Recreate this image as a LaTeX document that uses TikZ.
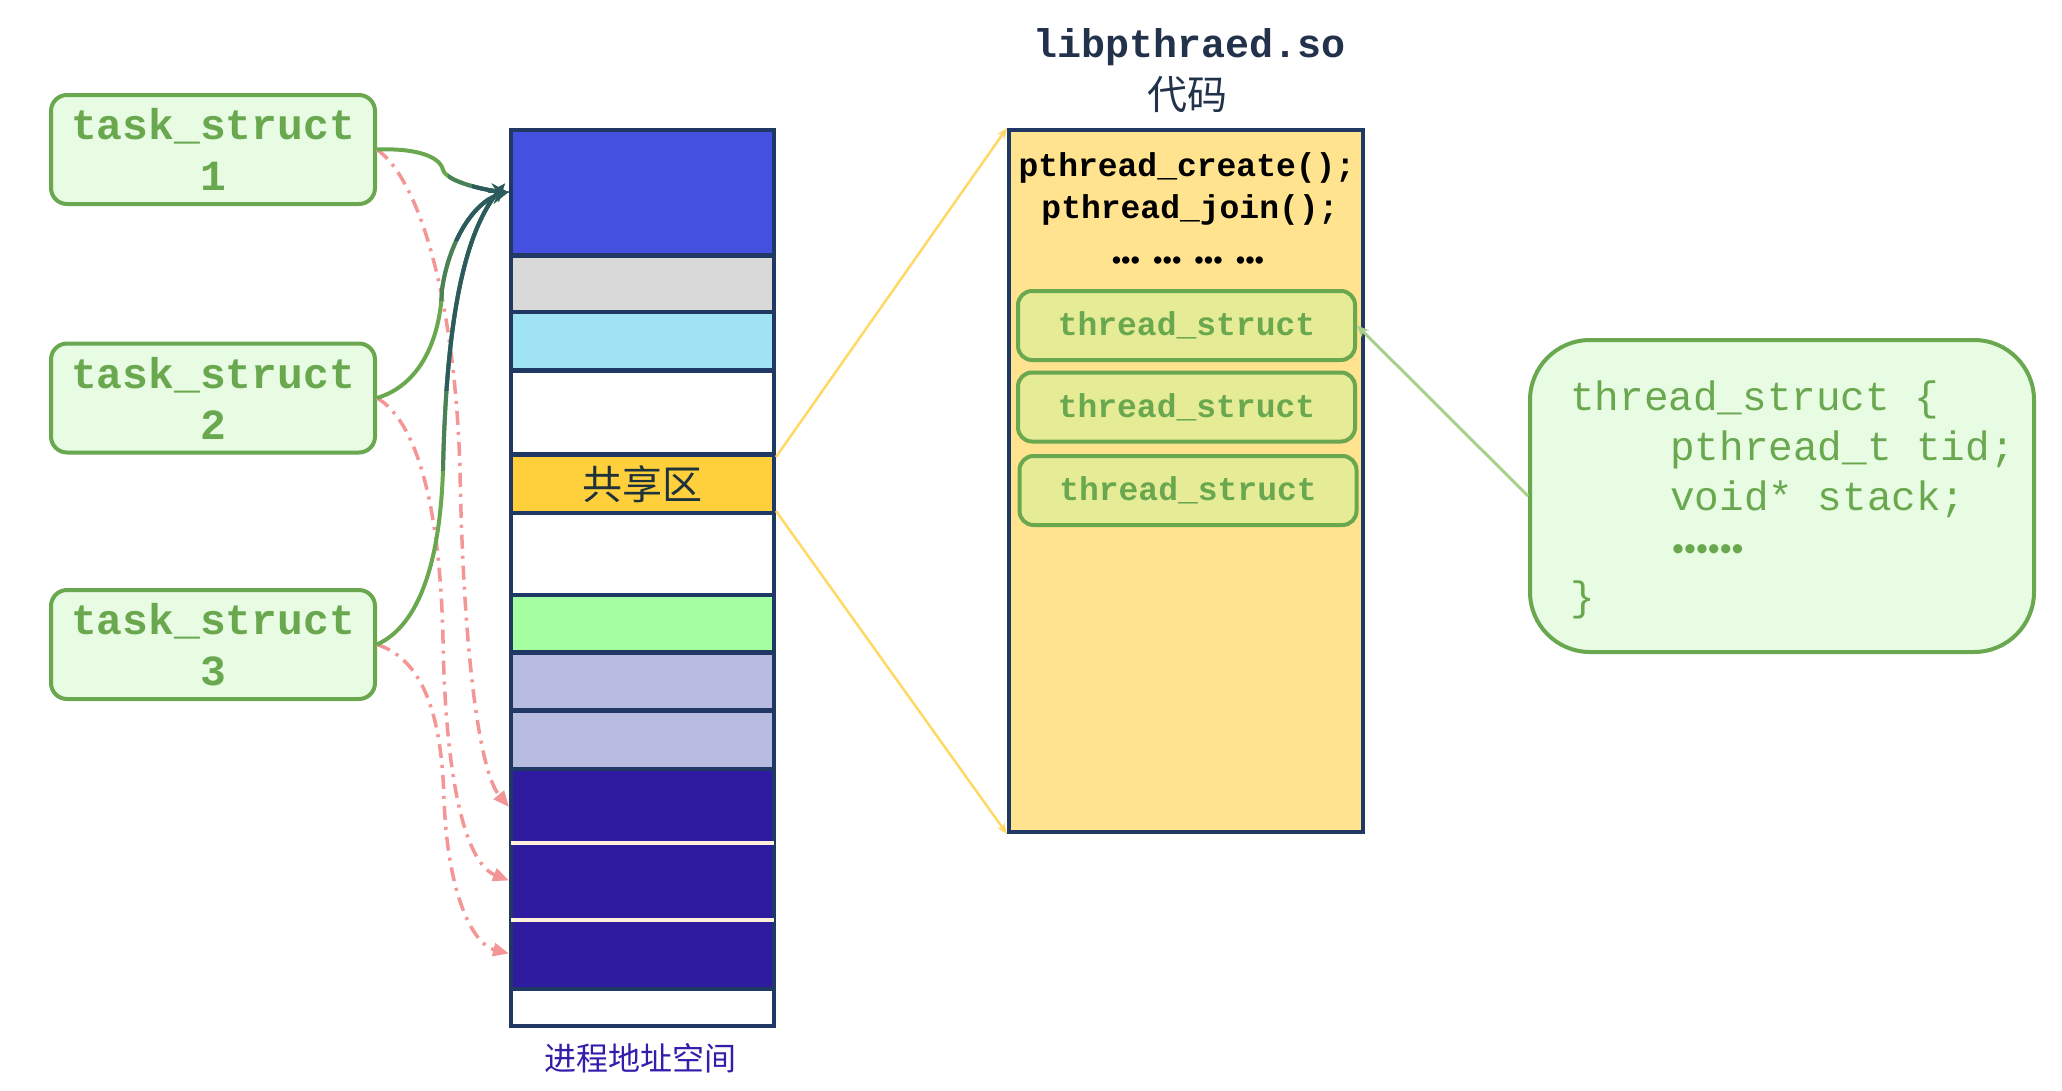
\documentclass[tikz,border=0pt]{standalone}
\usepackage{fontspec}
\setmonofont{Liberation Mono}
\newfontfamily\cjk{Noto Sans CJK SC}
\newfontfamily\lsans{Liberation Sans}
\usetikzlibrary{arrows.meta}
\definecolor{cnavy}{RGB}{31,56,100}
\definecolor{ctopblue}{RGB}{67,80,224}
\definecolor{cgray}{RGB}{217,217,217}
\definecolor{clblue}{RGB}{160,228,244}
\definecolor{cyel}{RGB}{255,207,60}
\definecolor{clgreen}{RGB}{163,255,160}
\definecolor{clav}{RGB}{184,188,224}
\definecolor{cdblue}{RGB}{46,27,160}
\definecolor{ccream}{RGB}{255,240,220}
\definecolor{ccode}{RGB}{255,227,143}
\definecolor{ctsfill}{RGB}{230,235,150}
\definecolor{cgreen}{RGB}{106,168,79}
\definecolor{cboxfill}{RGB}{232,251,227}
\definecolor{cpink}{RGB}{244,150,150}
\definecolor{cteal}{RGB}{45,90,95}
\definecolor{cyl}{RGB}{255,217,102}
\definecolor{clgline}{RGB}{168,208,141}
\definecolor{ctitle}{RGB}{35,50,75}
\definecolor{cdark}{RGB}{30,50,60}
\definecolor{clabel}{RGB}{50,30,170}
\begin{document}
\begin{tikzpicture}[x=1pt,y=-1pt,
  task/.style={draw=cgreen, line width=4pt, fill=cboxfill, rounded corners=16pt,
    minimum width=324pt, minimum height=109pt, align=center, text=cgreen,
    font=\ttfamily\bfseries\fontsize{43}{51}\selectfont, inner sep=0pt},
  cell/.style={rectangle, inner sep=0pt, outer sep=0pt, minimum width=259pt, anchor=north west},
  tsbox/.style={draw=cgreen, line width=4pt, fill=ctsfill, rounded corners=14pt,
    minimum width=337pt, minimum height=69pt, text=cgreen, inner sep=0pt,
    font=\ttfamily\bfseries\fontsize{33}{40}\selectfont},
  codetxt/.style={font=\ttfamily\bfseries\fontsize{33}{40}\selectfont, anchor=base, inner sep=0pt},
  bigtxt/.style={font=\ttfamily\fontsize{41}{50}\selectfont, anchor=base west, inner sep=0pt, text=cgreen},
  solidarr/.style={line width=4pt, -{Stealth[length=18pt,width=14pt]}},
  dashdot/.style={draw=cpink, line width=3.5pt, dash pattern=on 14pt off 7pt on 3pt off 7pt,
    -{Triangle[length=16pt,width=13pt]}},
  ylarr/.style={draw=cyl, line width=2.5pt, -{Stealth[length=11pt,width=9pt]}},
  lgarr/.style={draw=clgline, line width=3pt, -{Stealth[length=12pt,width=10pt]}}
]
\useasboundingbox[fill=white] (0,0) rectangle (2062,1090);

% task boxes
\node[task] (t1) at (213,149.5) {task\_struct\\1};
\node[task] (t2) at (213,398) {task\_struct\\2};
\node[task] (t3) at (213,644.5) {task\_struct\\3};

% address space column
\node[rectangle, fill=cnavy, minimum width=267pt, minimum height=900pt, anchor=north west, inner sep=0pt, outer sep=0pt] (col) at (509,128) {};
\node[cell, fill=ctopblue, minimum height=121pt] (c1) at (513,132) {};
\node[cell, fill=cgray, minimum height=52pt] (c2) at (513,258) {};
\node[cell, fill=clblue, minimum height=54pt] (c3) at (513,314) {};
\node[cell, fill=white, minimum height=79pt] (c4) at (513,373) {};
\node[cell, fill=cyel, minimum height=54pt, text=cdark, font=\cjk\fontsize{40}{40}\selectfont] (sh) at (513,457) {共享区};
\node[cell, fill=white, minimum height=78pt] (c6) at (513,515) {};
\node[cell, fill=clgreen, minimum height=53pt] (c7) at (513,597) {};
\node[cell, fill=clav, minimum height=53pt] (c8) at (513,655) {};
\node[cell, fill=clav, minimum height=54pt] (c9) at (513,713) {};
\node[cell, fill=cdblue, minimum height=72pt] (d1) at (513,771) {};
\node[cell, fill=cdblue, minimum height=75pt] (d2) at (513,843) {};
\node[cell, fill=cdblue, minimum height=67pt] (d3) at (513,920) {};
\node[cell, fill=white, minimum height=33pt] (c13) at (513,991) {};
\fill[ccream] (511,841) rectangle (774,845);
\fill[ccream] (511,918) rectangle (774,922);
\node[font=\cjk\fontsize{32}{36}\selectfont, text=clabel] (lab) at (640,1058) {进程地址空间};

% code box
\node[font=\ttfamily\bfseries\fontsize{40}{44}\selectfont, text=ctitle, anchor=base, inner sep=0pt] (title) at (1190,57) {libpthraed.so};
\node[font=\cjk\fontsize{40}{44}\selectfont, text=ctitle, inner sep=0pt] (dm) at (1187,95) {代码};
\node[draw=cnavy, line width=4pt, fill=ccode, minimum width=354pt, minimum height=702pt, anchor=north west, inner sep=0pt] (code) at (1007,128) {};
\node[codetxt] (f1) at (1187,176) {pthread\_create();};
\node[codetxt] (f2) at (1190,218) {pthread\_join();};
\node[font=\lsans\fontsize{27}{30}\selectfont, inner sep=0pt] (f3) at (1188,263) {•••\hspace{13pt}•••\hspace{13pt}•••\hspace{13pt}•••};
\node[tsbox] (ts1) at (1186.5,325.5) {thread\_struct};
\node[tsbox] (ts2) at (1186.5,407) {thread\_struct};
\node[tsbox] (ts3) at (1188,490.5) {thread\_struct};

% big struct box
\node[draw=cgreen, line width=4pt, fill=cboxfill, rounded corners=60pt, minimum width=504pt, minimum height=312pt, inner sep=0pt] (big) at (1782,496) {};
\node[bigtxt] (b1) at (1570,410) {thread\_struct \{};
\node[bigtxt] (b2) at (1670,460) {pthread\_t tid;};
\node[bigtxt] (b3) at (1670,510) {void* stack;};
\node[bigtxt, font=\lsans\fontsize{34}{40}\selectfont] (b4) at (1672,560) {••••••};
\node[bigtxt] (b5) at (1570,610) {\}};

% connectors: yellow and light green
\draw[ylarr] (sh.north east -| col.east) -- (code.north west);
\draw[ylarr] (sh.south east -| col.east) -- (code.south west);
\draw[lgarr] (big.west) -- (ts1.east);

% dash-dot connectors
\draw[dashdot] (t1.east) .. controls (420,180) and (455,300) .. (460,470) .. controls (463,640) and (478,770) .. (d1.west -| col.west);
\draw[dashdot] (t2.east) .. controls (415,420) and (440,500) .. (443,640) .. controls (446,800) and (470,865) .. (d2.west -| col.west);
\draw[dashdot] (t3.east) .. controls (425,660) and (442,720) .. (444,800) .. controls (448,900) and (475,945) .. (d3.west -| col.west);

% solid connectors
\def\pA{(t1.east) .. controls (415,148) and (440,156) .. (443,170) .. controls (447,182) and (485,190) .. (c1.west -| col.west)}
\def\pB{(t2.east) .. controls (420,385) and (440,340) .. (442,290) .. controls (448,245) and (472,203) .. ([yshift=1pt]c1.west -| col.west)}
\def\pC{(t3.east) .. controls (420,625) and (440,560) .. (443,470) .. controls (446,330) and (462,235) .. ([xshift=-4pt,yshift=9pt]c1.west -| col.west)}
\draw[solidarr, cgreen] \pA;
\draw[solidarr, cgreen] \pB;
\draw[solidarr, cgreen] \pC;
\begin{scope}
\clip (448,100) rectangle (530,260);
\draw[solidarr, cgreen!50!cteal] \pA;
\end{scope}
\begin{scope}
\clip (472,100) rectangle (530,260);
\draw[solidarr, cteal] \pA;
\end{scope}
\begin{scope}
\clip (420,150) rectangle (530,300);
\draw[solidarr, cgreen!50!cteal] \pB;
\end{scope}
\begin{scope}
\clip (420,150) rectangle (530,240);
\draw[solidarr, cteal] \pB;
\end{scope}
\begin{scope}
\clip (420,150) rectangle (530,470);
\draw[solidarr, cgreen!50!cteal] \pC;
\end{scope}
\begin{scope}
\clip (420,150) rectangle (530,390);
\draw[solidarr, cteal] \pC;
\end{scope}
\end{tikzpicture}
\end{document}
